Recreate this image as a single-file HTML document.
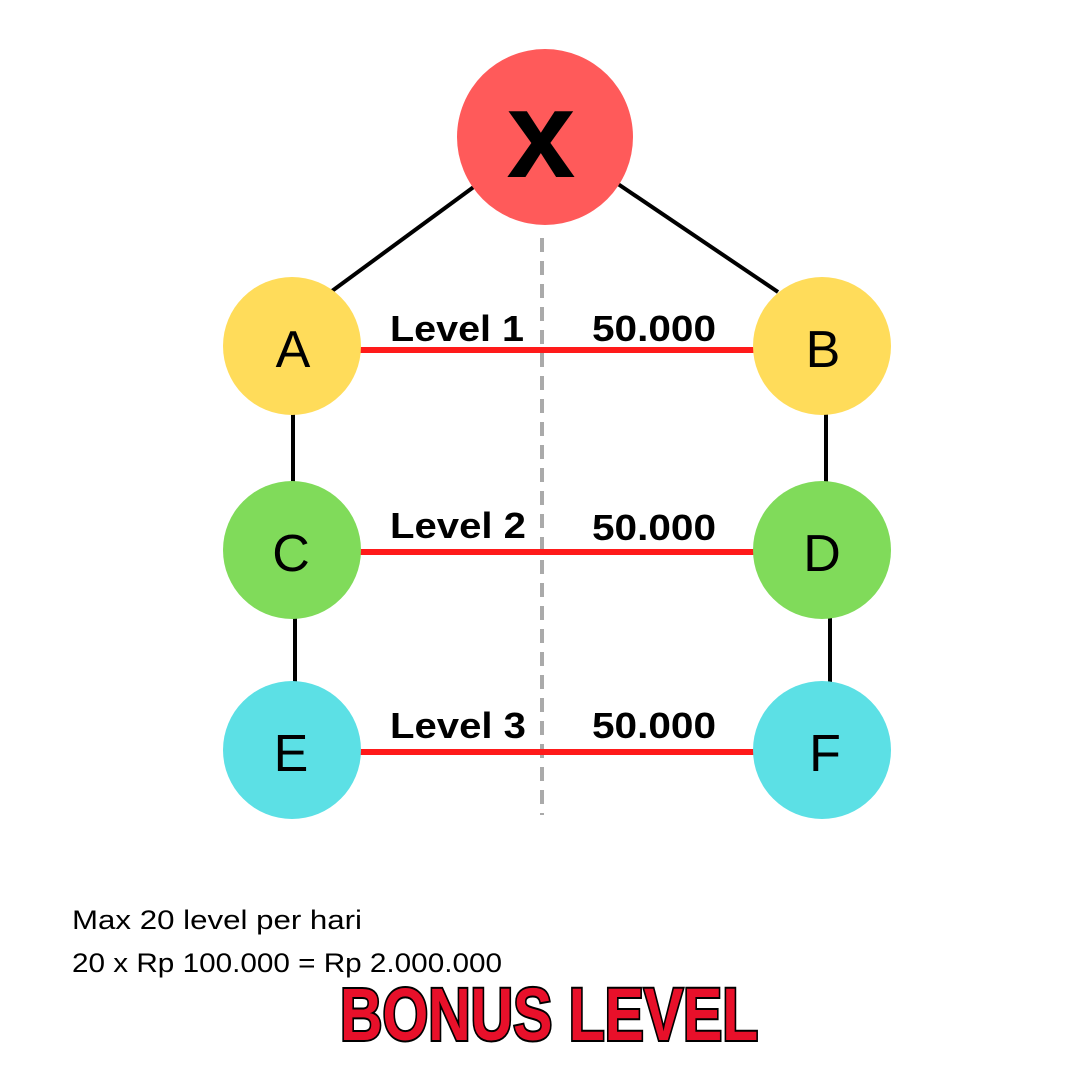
<!DOCTYPE html>
<html><head><meta charset="utf-8"><style>
html,body{margin:0;padding:0;background:#fff;}
svg{display:block;}
</style></head><body>
<svg width="1080" height="1080" viewBox="0 0 1080 1080" xmlns="http://www.w3.org/2000/svg">
<rect width="1080" height="1080" fill="#fff"/>
<line x1="542" y1="238" x2="542" y2="815" stroke="#aaa" stroke-width="4" stroke-dasharray="14,9"/>
<g stroke="#000" stroke-width="4">
<line x1="475" y1="186" x2="332" y2="291"/>
<line x1="618" y1="184" x2="778" y2="292"/>
<line x1="293" y1="410" x2="293" y2="484"/>
<line x1="295" y1="614" x2="295" y2="686"/>
<line x1="826" y1="410" x2="826" y2="484"/>
<line x1="830" y1="614" x2="830" y2="686"/>
</g>
<g stroke="#ff1a1a" stroke-width="6">
<line x1="360" y1="350" x2="756" y2="350"/>
<line x1="360" y1="552" x2="756" y2="552"/>
<line x1="360" y1="752" x2="756" y2="752"/>
</g>
<circle cx="545" cy="137" r="88" fill="#ff5a5a"/>
<circle cx="292" cy="346" r="69" fill="#ffdc5a"/>
<circle cx="822" cy="346" r="69" fill="#ffdc5a"/>
<circle cx="292" cy="550" r="69" fill="#80db5a"/>
<circle cx="822" cy="550" r="69" fill="#80db5a"/>
<circle cx="292" cy="750" r="69" fill="#5ce0e5"/>
<circle cx="822" cy="750" r="69" fill="#5ce0e5"/>
<g font-family="Liberation Sans, sans-serif" text-anchor="middle" font-size="52">
<text x="541" y="177" font-size="124" font-weight="bold">x</text>
<text x="293" y="367">A</text>
<text x="823" y="367">B</text>
<text x="291" y="571">C</text>
<text x="822" y="571">D</text>
<text x="291" y="771">E</text>
<text x="825" y="771">F</text>
</g>
<g font-family="Liberation Sans, sans-serif" font-weight="bold" font-size="36">
<text x="390" y="341" textLength="134" lengthAdjust="spacingAndGlyphs">Level 1</text>
<text x="592" y="341" textLength="124" lengthAdjust="spacingAndGlyphs">50.000</text>
<text x="390" y="538" textLength="136" lengthAdjust="spacingAndGlyphs">Level 2</text>
<text x="592" y="540" textLength="124" lengthAdjust="spacingAndGlyphs">50.000</text>
<text x="390" y="738" textLength="136" lengthAdjust="spacingAndGlyphs">Level 3</text>
<text x="592" y="738" textLength="124" lengthAdjust="spacingAndGlyphs">50.000</text>
</g>
<g font-family="Liberation Sans, sans-serif" font-size="27" xml:space="preserve">
<text x="72" y="929" textLength="290" lengthAdjust="spacingAndGlyphs">Max 20  level per hari</text>
<text x="72" y="972" textLength="430" lengthAdjust="spacingAndGlyphs">20 x Rp 100.000 = Rp  2.000.000</text>
</g>
<text transform="translate(340,1040) scale(0.82,1)" font-family="Liberation Sans, sans-serif" font-weight="bold" font-size="74" fill="#e8102a" stroke="#000" stroke-width="4" paint-order="stroke" textLength="510" lengthAdjust="spacingAndGlyphs">BONUS LEVEL</text>
</svg>
</body></html>
